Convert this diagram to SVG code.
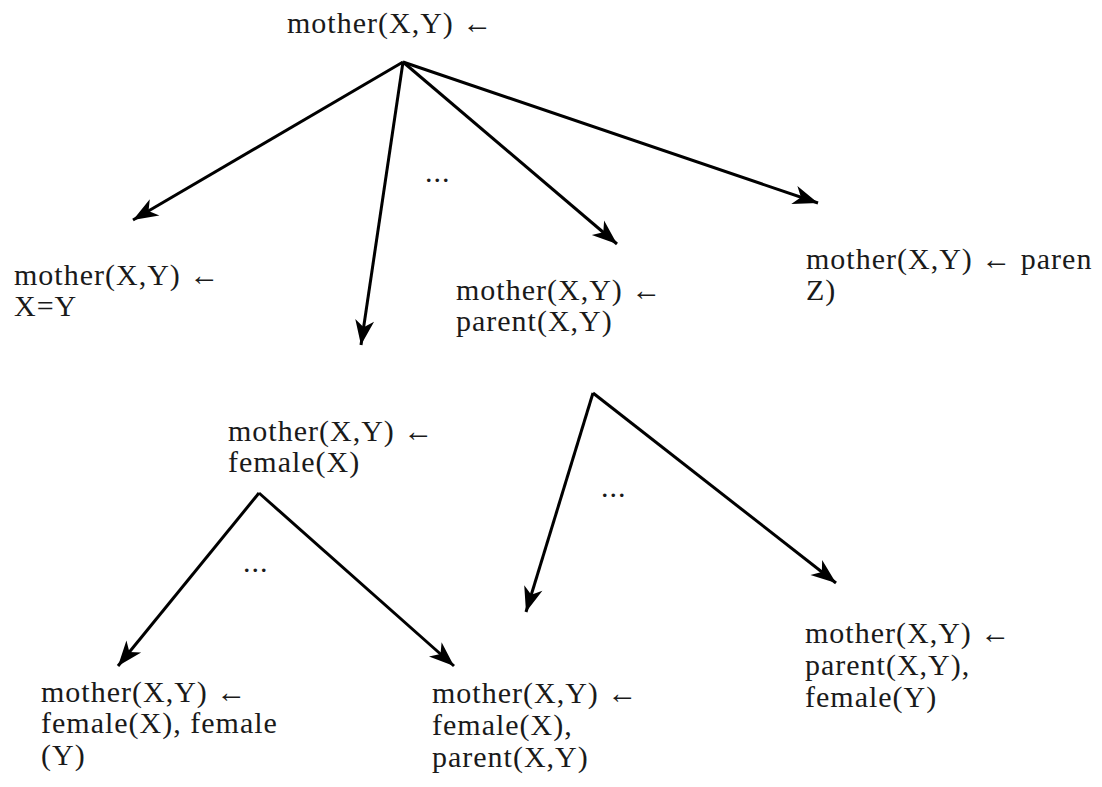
<svg xmlns="http://www.w3.org/2000/svg" width="1102" height="787" viewBox="0 0 1102 787">
<style>
.e{stroke:#000;stroke-width:3;fill:none;marker-end:url(#ah)}
</style>
<defs>
<marker id="ah" markerUnits="userSpaceOnUse" markerWidth="30" markerHeight="24" refX="0" refY="0" viewBox="-26 -12 28 24" orient="auto">
<path d="M0,0 L-25,-9.5 L-18,0 L-25,9.5 Z" fill="#000"/>
</marker>
</defs>
<rect width="1102" height="787" fill="#fff"/>
<g font-family="Liberation Serif, DejaVu Serif, serif" font-size="30" letter-spacing="1" fill="#1a1a1a">
<g id="connectors">
<line class="e" x1="403" y1="62" x2="133" y2="220"/>
<line class="e" x1="403" y1="62" x2="361" y2="345"/>
<line class="e" x1="403" y1="62" x2="617" y2="244"/>
<line class="e" x1="403" y1="62" x2="818" y2="203"/>
<line class="e" x1="593" y1="393" x2="526" y2="612"/>
<line class="e" x1="593" y1="393" x2="836" y2="583"/>
<line class="e" x1="259" y1="493" x2="118" y2="666"/>
<line class="e" x1="259" y1="493" x2="454" y2="666"/>
<text x="425" y="182">...</text>
<text x="601" y="497">...</text>
<text x="243" y="572">...</text>
</g>
<g id="root"><text x="287" y="33">mother(X,Y) ←</text></g>
<g id="n1"><text x="14" y="285">mother(X,Y) ←</text><text x="14" y="316">X=Y</text></g>
<g id="n2"><text x="228" y="441">mother(X,Y) ←</text><text x="228" y="472">female(X)</text></g>
<g id="n3"><text x="456" y="300">mother(X,Y) ←</text><text x="456" y="331">parent(X,Y)</text></g>
<g id="n4"><text x="806" y="269">mother(X,Y) ← paren</text><text x="806" y="300">Z)</text></g>
<g id="n5"><text x="41" y="702">mother(X,Y) ←</text><text x="41" y="733">female(X), female</text><text x="41" y="765">(Y)</text></g>
<g id="n6"><text x="432" y="703">mother(X,Y) ←</text><text x="432" y="735">female(X),</text><text x="432" y="767">parent(X,Y)</text></g>
<g id="n7"><text x="805" y="643">mother(X,Y) ←</text><text x="805" y="675">parent(X,Y),</text><text x="805" y="707">female(Y)</text></g>
</g>
</svg>
